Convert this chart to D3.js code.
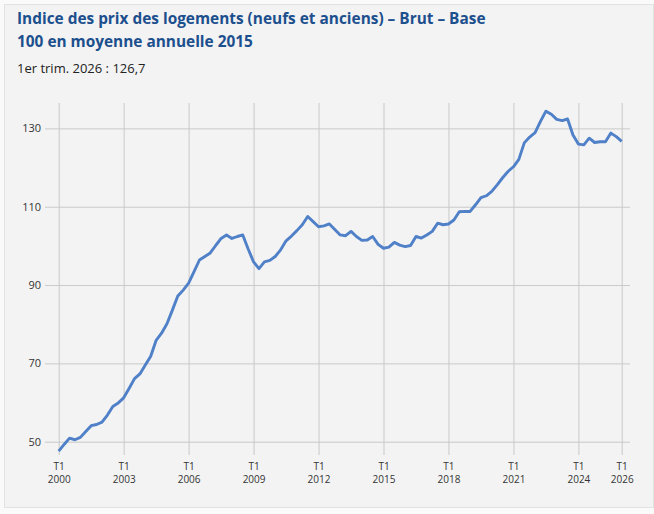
<!DOCTYPE html>
<html>
<head>
<meta charset="utf-8">
<script src="https://cdn.jsdelivr.net/npm/d3@7"></script>
<style>
  body { margin: 0; background: #fafafa; font-family: "Open Sans", sans-serif; }
  .tick text { font-family: "Open Sans", sans-serif; fill: #333; }
</style>
</head>
<body>
<div id="chart"></div>
<script>
// Quarterly index, 2000 T1 .. 2026 T1 (base 100 = 2015)
var startYear = 2000;
var values = [
  47.6, 49.3, 50.9, 50.5, 51.1, 52.6, 54.1, 54.4, 55.0, 56.8, 59.0, 59.9,
  61.2, 63.6, 66.1, 67.3, 69.6, 71.8, 75.9, 77.7, 80.1, 83.6, 87.2, 88.7,
  90.5, 93.4, 96.4, 97.3, 98.2, 100.1, 101.9, 102.8, 101.9, 102.4, 102.8, 99.2,
  95.9, 94.2, 95.9, 96.3, 97.3, 99.0, 101.3, 102.5, 103.9, 105.4, 107.5, 106.2,
  104.9, 105.1, 105.6, 104.2, 102.8, 102.6, 103.7, 102.4, 101.4, 101.5, 102.4, 100.4,
  99.4, 99.7, 100.9, 100.2, 99.8, 100.1, 102.4, 102.0, 102.8, 103.7, 105.8, 105.4,
  105.6, 106.6, 108.7, 108.8, 108.8, 110.5, 112.3, 112.8, 113.9, 115.6, 117.4, 119.0,
  120.2, 122.1, 126.3, 127.8, 128.9, 131.8, 134.4, 133.6, 132.3, 132.0, 132.4, 128.3,
  126.0, 125.8, 127.5, 126.4, 126.6, 126.6, 128.8, 127.9, 126.7
];
var xTickYears = [2000, 2003, 2006, 2009, 2012, 2015, 2018, 2021, 2024, 2026];
var yTicks = [50, 70, 90, 110, 130];
var titleLines = ["Indice des prix des logements (neufs et anciens) \u2013 Brut \u2013 Base",
                  "100 en moyenne annuelle 2015"];
var subtitle = "1er trim. 2026 : 126,7";

var data = values.map(function(v, i) { return { q: i, value: v }; });

var svgWidth = 654, svgHeight = 514;
var svg = d3.select("#chart").append("svg")
  .attr("width", svgWidth)
  .attr("height", svgHeight);

// panel
svg.append("rect")
  .attr("x", 4.5).attr("y", 4.5)
  .attr("width", 649).attr("height", 503)
  .attr("fill", "#f3f3f3")
  .attr("stroke", "#e2e2e2");

// titles
svg.append("text")
  .attr("x", 17).attr("y", 0)
  .attr("fill", "#1c4f8d")
  .style("font-weight", "bold")
  .style("font-size", "15.4px")
  .selectAll("tspan")
  .data(titleLines)
  .enter()
  .append("tspan")
  .attr("x", 17)
  .attr("y", function(d, i) { return 24 + i * 23; })
  .text(function(d) { return d; });

svg.append("text")
  .attr("x", 17).attr("y", 73)
  .attr("fill", "#222")
  .style("font-size", "13px")
  .text(subtitle);

// scales
var gridLeft = 45, gridRight = 630, gridTop = 103, gridBottom = 455;
var xScale = d3.scaleLinear().domain([0, 104]).range([58.7, 621.7]);
var yScale = d3.scaleLinear().domain([50, 130]).range([441.7, 128.4]);

// y axis + horizontal grid
var yAxis = d3.axisLeft(yScale)
  .tickValues(yTicks)
  .tickSize(-(gridRight - gridLeft))
  .tickPadding(4)
  .tickFormat(d3.format("d"));

var yG = svg.append("g")
  .attr("transform", `translate(${gridLeft}, 0)`)
  .call(yAxis);
yG.select(".domain").remove();
yG.selectAll(".tick line").attr("stroke", "#c9c9c9");
yG.selectAll(".tick text").style("font-size", "11px");

// x axis + vertical grid
var xTickValues = xTickYears.map(function(y) { return (y - startYear) * 4; });
var xAxis = d3.axisBottom(xScale)
  .tickValues(xTickValues)
  .tickSize(-(gridBottom - gridTop))
  .tickFormat("");

var xG = svg.append("g")
  .attr("transform", `translate(0, ${gridBottom})`)
  .call(xAxis);
xG.select(".domain").remove();
xG.selectAll(".tick line").attr("stroke", "#c9c9c9");
xG.selectAll(".tick").append("text")
  .attr("text-anchor", "middle")
  .style("font-size", "10px")
  .selectAll("tspan")
  .data(function(d) { return ["T1", String(startYear + d / 4)]; })
  .enter()
  .append("tspan")
  .attr("x", 0)
  .attr("y", function(d, i) { return 15 + i * 13.3; })
  .text(function(d) { return d; });

// line
var line = d3.line()
  .x(function(d) { return xScale(d.q); })
  .y(function(d) { return yScale(d.value); });

svg.append("path")
  .datum(data)
  .attr("d", line)
  .attr("fill", "none")
  .attr("stroke", "#4f80c8")
  .attr("stroke-width", 2.9)
  .attr("stroke-linejoin", "round");
</script>
</body>
</html>
